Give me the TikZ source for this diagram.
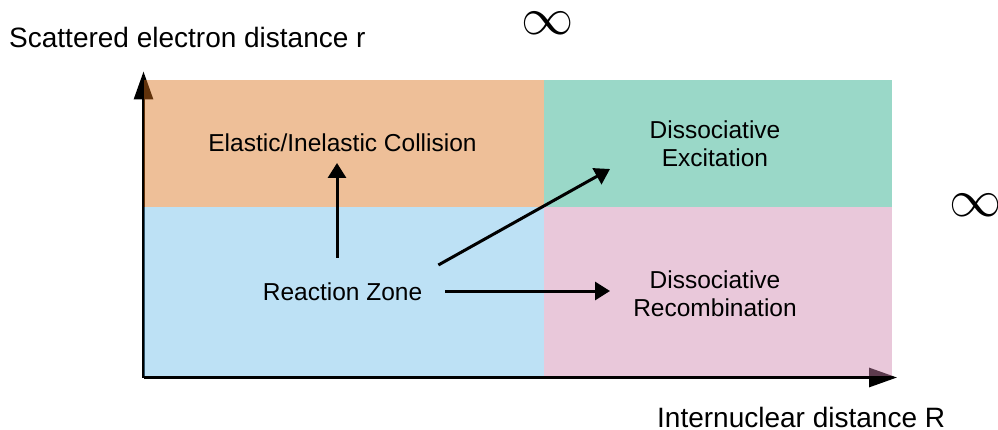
\documentclass[tikz,border=0pt]{standalone}
\usepackage{fontspec}
\setmainfont{Liberation Sans}
\usetikzlibrary{arrows.meta}
\definecolor{qorange}{RGB}{217,113,26}
\definecolor{qgreen}{RGB}{30,168,133}
\definecolor{qblue}{RGB}{108,188,233}
\definecolor{qpink}{RGB}{206,133,173}
\tikzset{
  quad/.style={fill opacity=0.45, draw=none},
  axisline/.style={line width=3pt, -{Triangle[length=28pt,width=19pt]}},
  arr/.style={line width=3pt, -{Triangle[length=15pt,width=18pt]}},
  lbl/.style={inner sep=0pt, font=\fontsize{24.5}{28}\selectfont, align=center},
  axlbl/.style={inner sep=0pt, font=\fontsize{28}{32}\selectfont},
  inf/.style={inner sep=0pt, scale=2.1, font=\fontsize{24}{24}\selectfont}
}
\begin{document}
\begin{tikzpicture}[x=1pt,y=-1pt]
\useasboundingbox (0,0) rectangle (998,430);
% axes
\coordinate (origin) at (143.5,377.5);
\coordinate (ytip) at (143.5,71.5);
\coordinate (xtip) at (897,377.5);
\draw[axisline] (origin) -- (ytip);
\draw[axisline] (origin) -- (xtip);
% quadrants
\fill[quad, qorange] (144,80) rectangle (544,207);
\fill[quad, qgreen] (544,80) rectangle (892,207);
\fill[quad, qblue] (144,207) rectangle (544,376);
\fill[quad, qpink] (544,207) rectangle (892,376);
% labels
\node[lbl, anchor=base] (el) at (342.5,152) {Elastic/Inelastic Collision};
\node[lbl, anchor=base] (rz) at (342.5,301) {Reaction Zone};
\node[lbl, anchor=north] (de) at (715,120.7) {Dissociative\\Excitation};
\node[lbl, anchor=north] (dr) at (715,270.7) {Dissociative\\Recombination};
% axis labels
\node[axlbl, anchor=base west] (ylab) at (9,48) {Scattered electron distance r};
\node[axlbl, anchor=base west] (xlab) at (657,427) {Internuclear distance R};
\node[inf] (inftop) at (548,23.5) {$\infty$};
\node[inf] (infright) at (976,205.5) {$\infty$};
% connectors
\draw[arr] ([xshift=-5.5pt,yshift=43pt]rz.base) -- ([xshift=-5.5pt,yshift=-11pt]el.base);
\draw[arr] ([xshift=16pt,yshift=36pt]rz.base east) -- ([xshift=-105pt,yshift=-48.3pt]de.north);
\draw[arr] ([xshift=23pt,yshift=10pt]rz.base east) -- ([xshift=-105pt,yshift=-20.3pt]dr.north);
\end{tikzpicture}
\end{document}
